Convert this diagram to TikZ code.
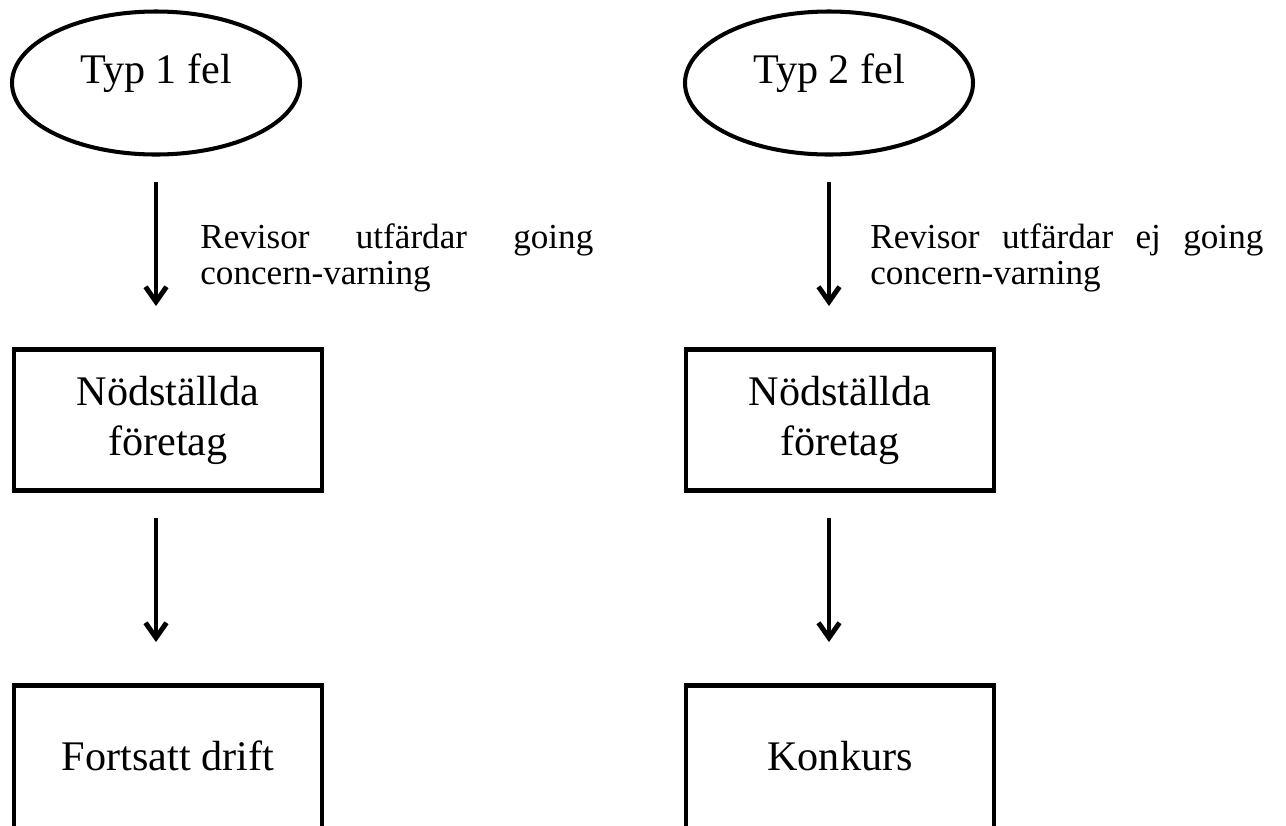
\documentclass[tikz,border=0pt]{standalone}
\usepackage{fontspec}
\setmainfont{Liberation Serif}
\usetikzlibrary{positioning, arrows.meta, shapes.geometric}

\begin{document}
\begin{tikzpicture}[
    fel/.style={ellipse, draw, line width=2.3pt, minimum width=5.76cm, minimum height=2.86cm,
                inner sep=0pt, text height=0.5cm, text depth=0.5cm,
                font=\fontsize{24}{28.5}\selectfont},
    ruta/.style={rectangle, draw, line width=2.8pt, minimum width=6.16cm, minimum height=2.82cm,
                 inner sep=0pt, align=center, font=\fontsize{24}{28.5}\selectfont},
    slut/.style={ruta, minimum height=3.02cm, text depth=0.2cm},
    lbl/.style={inner sep=0pt, text width=7.86cm, align=justify,
                font=\fontsize{20}{20.2}\selectfont},
    arr/.style={-{Straight Barb[length=0.3cm, width=0.42cm]}, line width=2.8pt,
                shorten <=0.51cm, shorten >=0.82cm}
]
\useasboundingbox (0,0) rectangle (25.72,-16.5);
\clip (0,0) rectangle (25.72,-16.5);

\node[fel]  (typ1)  at (3.12,-1.66)  {Typ 1 fel};
\node[fel]  (typ2)  at (16.58,-1.66) {Typ 2 fel};
\node[lbl, anchor=west] (rev1) at (4.0,-5.16)  {Revisor utfärdar going concern-varning};
\node[lbl, anchor=west] (rev2) at (17.4,-5.16) {Revisor utfärdar ej going concern-varning};
\node[ruta] (nod1)  at (3.36,-8.4)   {Nödställda\\företag};
\node[ruta] (nod2)  at (16.8,-8.4)   {Nödställda\\företag};
\node[slut] (drift) at (3.36,-15.22) {Fortsatt drift};
\node[slut] (konk)  at (16.8,-15.22) {Konkurs};

\draw[arr] (typ1.south) -- (typ1.south |- nod1.north);
\draw[arr] (typ2.south) -- (typ2.south |- nod2.north);
\draw[arr] (typ1.south |- nod1.south) -- (typ1.south |- drift.north);
\draw[arr] (typ2.south |- nod2.south) -- (typ2.south |- konk.north);

\end{tikzpicture}
\end{document}
